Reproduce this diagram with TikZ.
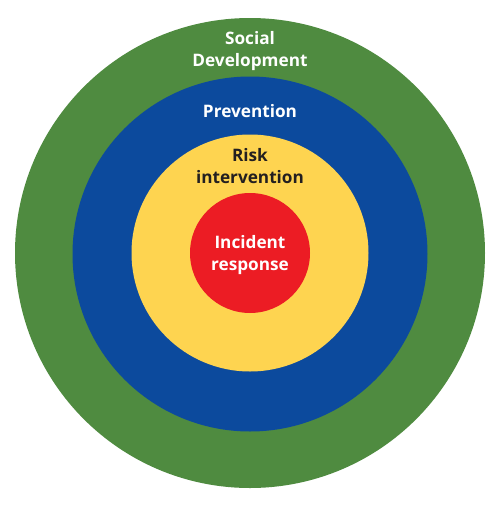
\documentclass[tikz,border=0pt]{standalone}
\usepackage{fontspec}
\setmainfont{Open Sans}
\definecolor{cgreen}{RGB}{79,139,64}
\definecolor{cblue}{RGB}{12,74,157}
\definecolor{cyellow}{RGB}{254,212,80}
\definecolor{cred}{RGB}{236,28,36}
\definecolor{cdark}{RGB}{35,31,32}
\begin{document}
\begin{tikzpicture}[x=1pt,y=-1pt,
  lab/.style={anchor=base,inner sep=0pt,font=\fontsize{17.2}{22}\selectfont\bfseries},
  ring/.style={circle,inner sep=0pt,draw=none}]
\useasboundingbox (0,0) rectangle (500,507);
\node[ring,fill=cgreen,minimum size=470pt] (g) at (250,253) {};
\node[ring,fill=cblue,minimum size=355pt] (b) at (250,254) {};
\node[ring,fill=cyellow,minimum size=237pt] (y) at (250,253) {};
\node[ring,fill=cred,minimum size=120pt] (r) at (250,253) {};
\node[lab,text=white] (t1) at (250,44) {Social};
\node[lab,text=white] (t2) at (250,66) {Development};
\node[lab,text=white] (t3) at (250,117) {Prevention};
\node[lab,text=cdark] (t4) at (250,161) {Risk};
\node[lab,text=cdark] (t5) at (250,183) {intervention};
\node[lab,text=white] (t6) at (250,248) {Incident};
\node[lab,text=white] (t7) at (250,270) {response};
\end{tikzpicture}
\end{document}
